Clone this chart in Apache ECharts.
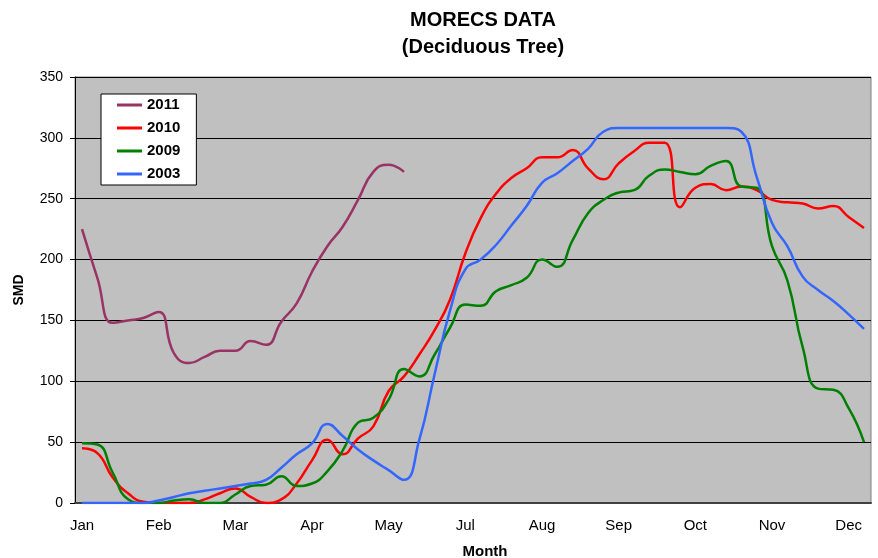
<!DOCTYPE html>
<html>
<head>
<meta charset="utf-8">
<script src="https://cdn.jsdelivr.net/npm/echarts@6/dist/echarts.min.js"></script>
<style>
html,body{margin:0;padding:0;background:#fff;}
#chart{width:878px;height:558px;}
</style>
</head>
<body>
<div id="chart"></div>
<script>
// Weekly SMD values (52 weeks)
const tickLabels = ['Jan','Feb','Mar','Apr','May','Jul','Aug','Sep','Oct','Nov','Dec'];
const seriesNames = ['2011','2010','2009','2003'];
const s2011 = [225,185,148,150,152,157,123,115,120,125,125,133,130,149,164,190,211,227,249,272,278,272];
const s2010 = [45,41,21,8,1,0,0,0,3,8,12,5,0,3,16,35,52,40,53,63,92,104,122,142,167,205,234,254,267,275,284,284,290,275,266,279,289,296,296,243,259,262,257,260,257,249,247,246,242,244,235,226];
const s2009 = [49,48,25,3,0,0,2,3,0,0,7,14,15,22,14,16,26,43,66,70,85,110,104,122,144,163,162,174,179,185,200,194,216,238,249,255,257,269,274,272,270,277,281,260,259,211,183,128,94,93,78,50];
const s2003 = [0,0,0,0,0,2,5,8,10,12,14,16,19,29,40,49,65,55,44,35,27,19,52,106,158,192,200,212,228,244,263,271,281,291,305,308,308,308,308,308,308,308,308,305,268,230,211,186,175,166,155,143];
const colors = ['#993366','#FF0000','#008000','#3366FF'];

const weeks = [];
for (let i = 0; i < 52; i++) weeks.push('W' + (i + 1));

const FONT = 'Liberation Sans, Arial, sans-serif';
const chart = echarts.init(document.getElementById('chart'));
const dataSets = [s2011, s2010, s2009, s2003];

chart.setOption({
  animation: false,
  textStyle: { fontFamily: FONT },
  title: {
    text: 'MORECS DATA\n(Deciduous Tree)',
    left: 478, top: 2, textAlign: 'center',
    textStyle: { fontSize: 20, fontWeight: 'bold', color: '#000', lineHeight: 27, fontFamily: FONT }
  },
  legend: {
    orient: 'vertical', left: 101, top: 94,
    data: seriesNames,
    icon: 'rect', itemWidth: 25, itemHeight: 3, itemGap: 7,
    backgroundColor: '#fff', borderColor: '#000', borderWidth: 1,
    padding: [3, 16, 3, 16], borderRadius: 0,
    textStyle: { fontSize: 15, fontWeight: 'bold', color: '#000', lineHeight: 16, fontFamily: FONT }
  },
  grid: [
    { left: 75, top: 77, width: 796, height: 426, show: true, backgroundColor: '#C0C0C0', borderColor: '#808080', borderWidth: 1, containLabel: false, outerBoundsMode: 'none' },
    { left: 82, top: 77, width: 782, height: 426, containLabel: false, outerBoundsMode: 'none' }
  ],
  xAxis: [
    { gridIndex: 0, type: 'value', min: 0, max: 1, axisLine: { show: true, onZero: false, lineStyle: { color: '#404040', width: 2 } },
      axisTick: { show: false }, axisLabel: { show: false }, splitLine: { show: false } },
    { gridIndex: 1, type: 'category', data: weeks, boundaryGap: false,
      axisLine: { show: false }, axisTick: { show: false }, splitLine: { show: false },
      axisLabel: { interval: 4, margin: 15, fontSize: 15, color: '#000', fontFamily: FONT,
        formatter: (v, i) => (i % 5 === 0 ? tickLabels[i / 5] : '') },
      name: 'Month', nameLocation: 'middle', nameGap: 41,
      nameTextStyle: { fontSize: 15, fontWeight: 'bold', color: '#000', padding: [0, 0, 0, 24], fontFamily: FONT } }
  ],
  yAxis: [
    { gridIndex: 0, type: 'value', min: 0, max: 350, interval: 50,
      axisLine: { show: true, lineStyle: { color: '#000', width: 1 } },
      axisTick: { show: true, length: 5, lineStyle: { color: '#000' } },
      axisLabel: { fontSize: 14, color: '#000', margin: 12, fontFamily: FONT },
      splitLine: { show: true, lineStyle: { color: '#000', width: 1 } },
      name: 'SMD', nameLocation: 'middle', nameGap: 49,
      nameTextStyle: { fontSize: 14, fontWeight: 'bold', color: '#000', fontFamily: FONT } },
    { gridIndex: 1, type: 'value', min: 0, max: 350, show: false }
  ],
  series: seriesNames.map((n, k) => ({
    name: n, type: 'line', xAxisIndex: 1, yAxisIndex: 1,
    data: dataSets[k], smooth: 0.5, showSymbol: false, symbol: 'none',
    lineStyle: { color: colors[k], width: 2.5 }, itemStyle: { color: colors[k] }
  }))
});
</script>
</body>
</html>
